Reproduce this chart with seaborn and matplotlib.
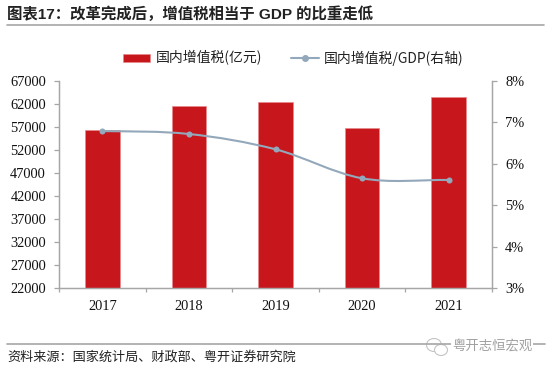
import pandas as pd
import seaborn as sns
import matplotlib.pyplot as plt
from matplotlib.lines import Line2D
from matplotlib.patches import Patch, PathPatch, Ellipse
from matplotlib.path import Path

years = ['2017', '2018', '2019', '2020', '2021']
vat = [56378, 61529, 62347, 56791, 63519]
vat_gdp = [6.79, 6.72, 6.35, 5.65, 5.61]
left_ticks = list(range(22000, 67001, 5000))
right_ticks = [3, 4, 5, 6, 7, 8]

bar_name = '国内增值税(亿元)'
line_name = '国内增值税/GDP(右轴)'
title = '图表17：改革完成后，增值税相当于 GDP 的比重走低'
source = '资料来源：国家统计局、财政部、粤开证券研究院'
mark = '粤开志恒宏观'

RED = '#c8161d'
BLUE = '#93a8ba'
GREY = '#a6a6a6'
W, H = 550, 371

sns.set_theme(style='white')
num_font = ['Liberation Serif', 'Noto Sans CJK SC']
cjk_font = ['Noto Sans CJK SC', 'DejaVu Sans']
plt.rcParams['font.family'] = cjk_font

df = pd.DataFrame({'year': years, 'vat': vat, 'ratio': vat_gdp})

fig = plt.figure(figsize=(5.5, 3.71), dpi=100)
ax = fig.add_axes([59 / W, (H - 288) / H, 433 / W, 207 / H])

sns.barplot(df, x='year', y='vat', color=RED, saturation=1, width=0.4, ax=ax,
            edgecolor='#e58a8e', linewidth=0.5)
ax.set_xlim(-0.5, 4.5)
ax.set_ylim(22000, 67000)
ax.set_yticks(left_ticks)
ax.set_xlabel('')
ax.set_ylabel('')

ax2 = ax.twinx()
ax2.set_ylim(3, 8)
ax2.set_yticks(right_ticks)
ax2.set_yticklabels([f'{t}%' for t in right_ticks])
ax2.set_ylabel('')

# smooth curve like excel, only the drawing is curved
xs = list(range(len(vat_gdp)))
verts = [(xs[0], vat_gdp[0])]
codes = [Path.MOVETO]
for i in range(len(xs) - 1):
    y0 = vat_gdp[max(i - 1, 0)]
    y1, y2 = vat_gdp[i], vat_gdp[i + 1]
    y3 = vat_gdp[min(i + 2, len(xs) - 1)]
    verts += [(i + 1 / 3, y1 + (y2 - y0) / 6), (i + 2 / 3, y2 - (y3 - y1) / 6), (i + 1, y2)]
    codes += [Path.CURVE4] * 3
ax2.add_patch(PathPatch(Path(verts, codes), fill=False, edgecolor=BLUE, linewidth=1.5))
sns.scatterplot(x=xs, y=vat_gdp, color=BLUE, s=19, linewidth=0, ax=ax2, zorder=3)

for a in (ax, ax2):
    for s in a.spines.values():
        s.set_color(GREY)
        s.set_linewidth(0.9)
    a.spines['top'].set_visible(False)
ax.tick_params(axis='y', left=True, length=3.6, width=0.9, color=GREY, labelsize=10.4,
               labelcolor='#111111', pad=5.8)
ax2.tick_params(axis='y', right=True, length=3.6, width=0.9, color=GREY, labelsize=10.4,
                labelcolor='#111111', pad=5.8)
ax.set_xticks([i - 0.5 for i in range(6)])
ax.set_xticklabels([])
ax.set_xticks(range(5), years, minor=True)
ax.tick_params(axis='x', which='major', bottom=True, length=2.9, width=0.9, color=GREY)
ax.tick_params(axis='x', which='minor', bottom=False, labelsize=10.4, labelcolor='#111111', pad=5)
for lab in ax.get_yticklabels() + ax2.get_yticklabels() + ax.get_xticklabels(minor=True):
    lab.set_family(num_font)

handles = [Patch(facecolor=RED, edgecolor='#e58a8e', linewidth=0.5, label=bar_name),
           Line2D([], [], color=BLUE, lw=1.5, marker='o', ms=4, label=line_name)]
leg = fig.legend(handles=handles, ncol=2, frameon=False, loc='center left',
                 bbox_to_anchor=(122.7 / W, 1 - 58 / H), prop={'size': 10, 'family': ['Noto Sans CJK SC']},
                 borderaxespad=0, borderpad=0, handlelength=2.0, handleheight=0.48,
                 handletextpad=0.36, columnspacing=2.1, labelcolor='#222222')

fig.text(7.3 / W, 1 - 14.5 / H, title, fontsize=11.1, fontweight='bold', color='#222222', va='center',
         family=['Liberation Sans', 'Noto Sans CJK SC'])
fig.add_artist(Line2D([7 / W, 544 / W], [1 - 24.5 / H] * 2, color=GREY, lw=1.2))
fig.add_artist(Line2D([7 / W, 545 / W], [1 - 343.5 / H] * 2, color=GREY, lw=1.2))
fig.text(7.5 / W, 1 - 357 / H, source, fontsize=9.45, color='#222222', va='center')

# watermark
fig.add_artist(Ellipse((434 / W, 1 - 345 / H), 15 / W, 13 / H, facecolor='white', edgecolor='#c4c4c4', lw=0.8,
                       transform=fig.transFigure))
fig.add_artist(Ellipse((441 / W, 1 - 350 / H), 13 / W, 11 / H, facecolor='white', edgecolor='#c4c4c4', lw=0.8,
                       transform=fig.transFigure))
wm = fig.text(452 / W, 1 - 346.7 / H, mark, fontsize=9.6, color='#a0a0a0', va='center')
wm.set_bbox(dict(facecolor='white', edgecolor='none', pad=0.5))

fig.savefig('out.png', dpi=100)
